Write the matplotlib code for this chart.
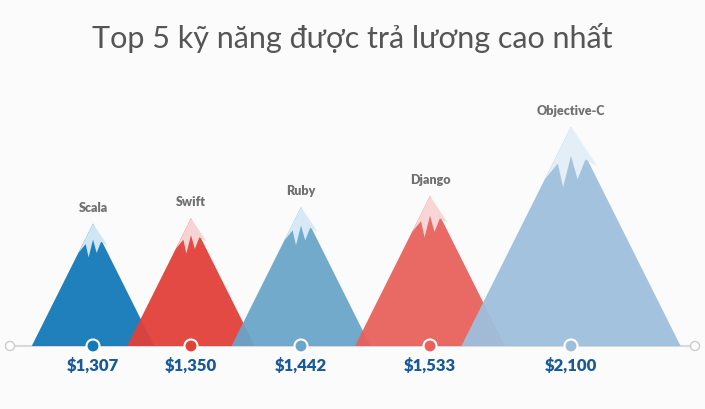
import matplotlib
matplotlib.use("Agg")
import matplotlib.pyplot as plt
from matplotlib.patches import Polygon, Circle

skills = ["Scala", "Swift", "Ruby", "Django", "Objective-C"]
salaries = [1307, 1350, 1442, 1533, 2100]
centers = [93, 191, 301, 430, 571]
colors = ["#1479b8", "#e2403a", "#6aa6c9", "#e8615c", "#9dbfdc"]
snow = ["#cfe6f5", "#f7d3d3", "#d7e9f4", "#f8d6d6", "#e4eef6"]

W, H = 705, 409
fig = plt.figure(figsize=(W/100, H/100), dpi=100)
fig.patch.set_facecolor("#fbfbfb")
ax = fig.add_axes([0, 0, 1, 1])
ax.set_xlim(0, W); ax.set_ylim(H, 0); ax.axis("off")

base = 346
for i, (s, v, c) in enumerate(zip(skills, salaries, centers)):
    h = 0.122 * v - 37
    hw = h * 0.5
    top = base - h
    ax.add_patch(Polygon([(c - hw, base), (c, top), (c + hw, base)], closed=True,
                         fc=colors[i], alpha=0.95, ec="none", zorder=2 + i))
    sh = h * 0.24
    f = sh / h
    pts = [(c, top), (c + hw * f, top + sh * 0.75),
           (c + hw * f * 0.55, top + sh * 0.62), (c + hw * f * 0.25, top + sh),
           (c + hw * f * 0.0, top + sh * 0.55), (c - hw * f * 0.3, top + sh * 1.15),
           (c - hw * f * 0.5, top + sh * 0.7), (c - hw * f * 1.0, top + sh * 1.0)]
    ax.add_patch(Polygon(pts, closed=True, fc=snow[i], ec="none", zorder=2 + i))
    ax.text(c, top - 10, s, ha="center", va="bottom", fontsize=9, fontweight="heavy",
            color="#707070", family="Lato", zorder=10)
    ax.text(c, base + 20, f"${v:,}", ha="center", va="center", fontsize=12,
            fontweight="heavy", color="#17599a", family="Lato", zorder=10)
    ax.add_patch(Circle((c, base), 6.5, fc=colors[i], ec="white", lw=1.5, zorder=12))

ax.plot([10, 695], [base, base], color="#d9d9d9", lw=1.5, zorder=1)
for x in (10, 695):
    ax.add_patch(Circle((x, base), 4.5, fc="white", ec="#cccccc", lw=1, zorder=12))

ax.text(W/2, 38, "Top 5 kỹ năng được trả lương cao nhất", ha="center", va="center",
        fontsize=22, color="#555555", family="Lato", fontweight="normal")

fig.savefig("out.png", dpi=100, facecolor=fig.get_facecolor())
